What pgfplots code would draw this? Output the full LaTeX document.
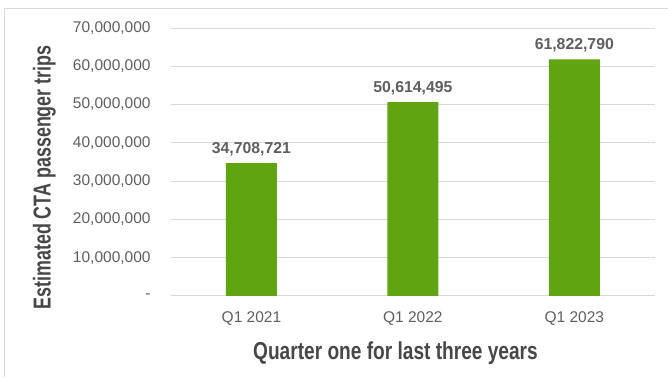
\documentclass[border=0pt]{standalone}
\usepackage{pgfplots}
\pgfplotsset{compat=1.18}
\usepackage{fontspec}
\setmainfont{Liberation Sans}
\definecolor{barg}{HTML}{60A511}
\definecolor{gridc}{HTML}{D9D9D9}
\definecolor{tickc}{HTML}{5F5F5F}
\definecolor{titlec}{HTML}{474747}
\begin{document}
\begin{tikzpicture}
\useasboundingbox (0,0) rectangle (668pt,377pt);
\draw[gridc, line width=1pt] (4pt,0pt) -- (4pt,368pt) -- (668pt,368pt);
\begin{axis}[
  at={(170.75pt,81pt)}, anchor=south west,
  scale only axis, width=484.25pt, height=268pt,
  xmin=-0.5, xmax=2.5, ymin=0, ymax=70000000,
  ybar, bar width=51pt,
  scaled y ticks=false,
  xtick=data, xticklabels={Q1 2021,Q1 2022,Q1 2023},
  ytick={0,10000000,20000000,30000000,40000000,50000000,60000000,70000000},
  yticklabels={-,{10,000,000},{20,000,000},{30,000,000},{40,000,000},{50,000,000},{60,000,000},{70,000,000}},
  ymajorgrids, grid style={gridc, line width=1pt},
  axis line style={draw=none}, major tick length=0pt, tick style={draw=none},
  tick label style={font=\fontsize{15.5}{18}\selectfont, text=tickc},
  yticklabel style={anchor=east, inner sep=0pt, xshift=-20pt},
  xticklabel style={anchor=base, inner sep=0pt, yshift=-26pt},
  point meta=explicit symbolic,
  nodes near coords,
  nodes near coords style={font=\fontsize{15.8}{18}\selectfont\bfseries, text=tickc, anchor=base, inner sep=0pt, yshift=10pt},
  clip=false,
]
\addplot[fill=barg, draw=none] table[x=x, y=y, meta=lab] {
x y lab
0 34708721 34,708,721
1 50614495 50,614,495
2 61822790 61,822,790
};
\end{axis}
\node[rotate=90, anchor=base, inner sep=0pt, text=titlec] at (50.7pt,199.5pt)
  {\scalebox{0.73}[1]{\fontsize{24.5}{28}\selectfont\bfseries Estimated CTA passenger trips}};
\node[anchor=base, inner sep=0pt, text=titlec] at (395.5pt,18pt)
  {\scalebox{0.78}[1]{\fontsize{24.5}{28}\selectfont\bfseries Quarter one for last three years}};
\end{tikzpicture}
\end{document}
